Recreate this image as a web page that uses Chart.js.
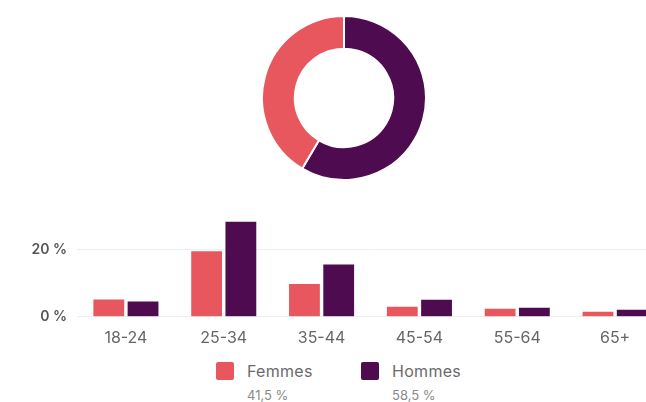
<!DOCTYPE html>
<html>
<head>
<meta charset="utf-8">
<script src="https://cdn.jsdelivr.net/npm/chart.js@4/dist/chart.umd.min.js"></script>
<style>
  html, body { margin: 0; padding: 0; background: #fff; overflow: hidden; width: 646px; height: 402px; }
  body { position: relative; font-family: Inter, "Noto Sans", sans-serif; }
  #donutBox { position: absolute; left: 261px; top: 15px; width: 166px; height: 166px; }
  #barBox { position: absolute; left: 0; top: 198px; width: 680px; height: 162px; }
  .leg { position: absolute; top: 362px; }
  .leg .sq { position: absolute; left: 0; top: 0; width: 18px; height: 18px; border-radius: 2px; }
  .leg .name { position: absolute; left: 31px; top: -1px; font-size: 16px; line-height: 20px; color: #6a6a6a; white-space: nowrap; letter-spacing: 0.3px; }
  .leg .pct { position: absolute; left: 31px; top: 26px; font-size: 13px; line-height: 14px; color: #8a8a8a; white-space: nowrap; }
</style>
</head>
<body>
<div id="donutBox"><canvas id="donut"></canvas></div>
<div id="barBox"><canvas id="bars"></canvas></div>
<div id="legend"></div>
<script>
// data
const genres = ['Femmes', 'Hommes']
const parts = [41.5, 58.5]
const partLabels = ['41,5 %', '58,5 %']
const ages = ['18-24', '25-34', '35-44', '45-54', '55-64', '65+']
const femmes = [5.2, 19.6, 9.8, 3.0, 2.4, 1.5]
const hommes = [4.6, 28.4, 15.6, 5.1, 2.7, 2.1]
const yTicks = [0, 20]

const COLORS = {
  femmes: '#e8575d',
  hommes: '#4e0b50'
}

// doughnut: Hommes drawn first so it goes clockwise from the top
new Chart(document.getElementById('donut'), {
  type: 'doughnut',
  data: {
    labels: [genres[1], genres[0]],
    datasets: [{
      data: [parts[1], parts[0]],
      backgroundColor: [COLORS.hommes, COLORS.femmes],
      borderColor: '#fff',
      borderWidth: 2
    }]
  },
  options: {
    responsive: true,
    maintainAspectRatio: false,
    animation: false,
    cutout: '60%',
    layout: { padding: 0 },
    plugins: { legend: { display: false }, tooltip: { enabled: false } }
  }
})

new Chart(document.getElementById('bars'), {
  type: 'bar',
  data: {
    labels: ages,
    datasets: [
      { label: genres[0], data: femmes, backgroundColor: COLORS.femmes },
      { label: genres[1], data: hommes, backgroundColor: COLORS.hommes }
    ]
  },
  options: {
    responsive: true,
    maintainAspectRatio: false,
    animation: false,
    layout: { padding: { left: 22, right: 16, top: 10, bottom: 0 } },
    datasets: { bar: { categoryPercentage: 0.7, barPercentage: 0.9 } },
    scales: {
      x: {
        grid: { display: false, drawTicks: false },
        border: { display: false },
        ticks: { color: '#666', font: { family: 'Inter', size: 16 }, padding: 12 }
      },
      y: {
        min: 0,
        max: 30,
        afterBuildTicks: (scale) => { scale.ticks = yTicks.map(v => ({ value: v })) },
        afterFit: (scale) => { scale.width = 55 },
        grid: { color: '#eeeeee', drawTicks: false },
        border: { display: false },
        ticks: {
          color: '#555',
          padding: 10,
          font: { family: 'Inter', size: 14, weight: '600' },
          callback: (v) => v + ' %'
        }
      }
    },
    plugins: { legend: { display: false }, tooltip: { enabled: false } }
  }
})

// legend under the bars
const legendLeft = [216, 361]
const legendColors = [COLORS.femmes, COLORS.hommes]
const legend = document.getElementById('legend')
for (let i = 0; i < genres.length; i++) {
  let item = document.createElement('div')
  item.className = 'leg'
  item.style.left = legendLeft[i] + 'px'
  item.innerHTML = '<div class="sq" style="background:' + legendColors[i] + '"></div>' +
    '<div class="name">' + genres[i] + '</div>' +
    '<div class="pct">' + partLabels[i] + '</div>'
  legend.appendChild(item)
}
</script>
</body>
</html>
